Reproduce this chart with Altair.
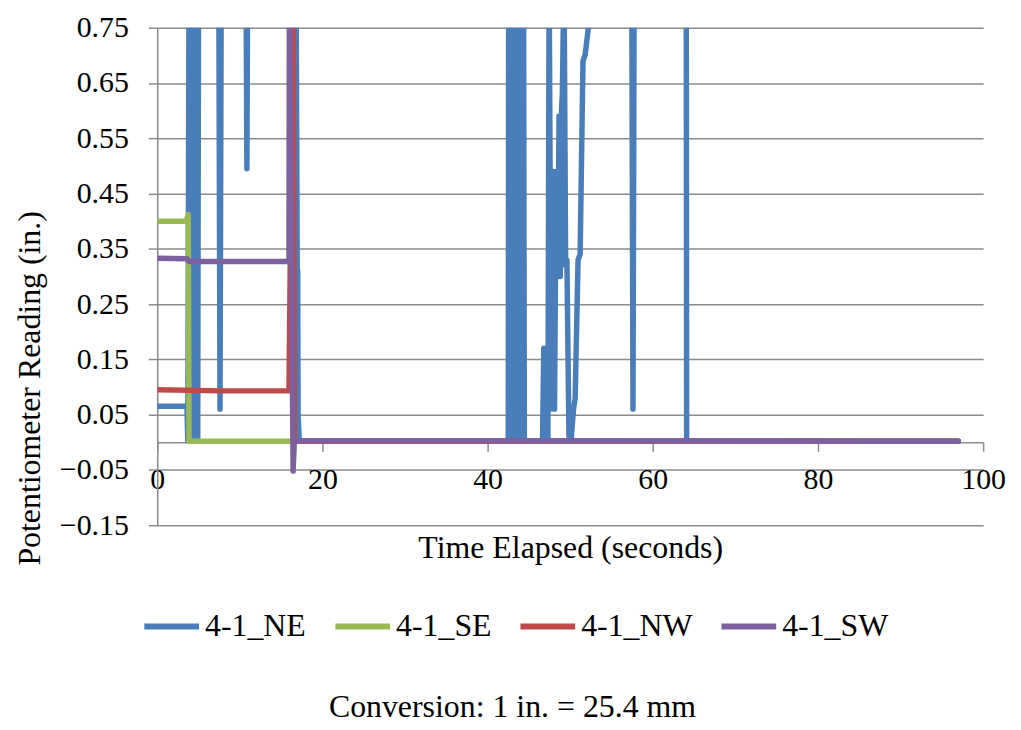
import altair as alt
import pandas as pd

SERIES = ["4-1_NE", "4-1_SE", "4-1_NW", "4-1_SW"]
COLORS = ["#4A7EBB", "#98B954", "#BE4B48", "#7D60A0"]

Y_TICKS = [-0.15, -0.05, 0.05, 0.15, 0.25, 0.35, 0.45, 0.55, 0.65, 0.75]
X_TICKS = [0, 20, 40, 60, 80, 100]

# 4-1_NE (values above 0.75 run off the top of the plot)
NE_T = [0, 3.6, 3.7, 3.85, 4.0, 4.15, 4.3, 4.45, 4.6, 4.75, 4.9, 5.0,
        7.45, 7.6, 7.75, 10.75, 10.85, 10.95, 16.8, 16.95, 17.0, 17.05, 17.2,
        42.5, 42.55, 42.65, 42.75, 42.85, 42.95, 43.05, 43.15, 43.25, 43.35, 43.45,
        43.55, 43.65, 43.75, 43.85, 43.95, 44.05, 44.15, 44.25, 44.35, 44.45, 44.6,
        46.65, 46.8, 46.9, 47.3, 47.45,
        47.7, 47.95, 48.1, 48.3, 48.5, 48.65, 48.8, 48.95, 49.05, 49.25, 49.45,
        49.6, 49.85, 50.1, 50.4, 50.6, 50.95, 51.2, 51.55, 51.8, 53.0,
        57.45, 57.6, 57.75, 64.05, 64.1, 97.0]
NE_V = [0.065, 0.065, 0.003, 0.85, 0.003, 0.85, 0.003, 0.85, 0.003, 0.85, 0.003, 0.85,
        0.85, 0.06, 0.85, 0.85, 0.495, 0.85, 0.85, 0.31, 0.31, 0.05, 0.002,
        0.002, 0.85, 0.12, 0.13, 0.002, 0.85, 0.002, 0.85, 0.002, 0.85, 0.002,
        0.85, 0.002, 0.85, 0.002, 0.85, 0.002, 0.85, 0.002, 0.85, 0.002, 0.002,
        0.002, 0.17, 0.002, 0.002, 0.85,
        0.06, 0.49, 0.06, 0.49, 0.30, 0.59, 0.30, 0.60, 0.63, 0.85, 0.32,
        0.33, 0.01, 0.002, 0.06, 0.08, 0.33, 0.34, 0.69, 0.70, 0.85,
        0.85, 0.06, 0.85, 0.85, 0.002, 0.002]

# 4-1_SE
SE_T = [0, 3.5, 3.75, 3.85, 97.0]
SE_V = [0.40, 0.40, 0.412, 0.002, 0.002]

# 4-1_NW
NW_T = [0, 8.0, 15.95, 16.45, 16.6, 97.0]
NW_V = [0.095, 0.093, 0.093, 0.85, 0.002, 0.002]

# 4-1_SW
SW_T = [0, 3.6, 3.85, 15.95, 16.0, 16.45, 16.6, 97.0]
SW_V = [0.333, 0.332, 0.327, 0.327, 0.85, -0.052, 0.003, 0.002]

rows = []
for name, ts, vs in zip(SERIES, [NE_T, SE_T, NW_T, SW_T], [NE_V, SE_V, NW_V, SW_V]):
    for t, v in zip(ts, vs):
        rows.append({"series": name, "t": t, "v": v})
df = pd.DataFrame(rows)

FONT = "Liberation Serif, Times New Roman, serif"
GRID = "#8a8a8a"

x_enc = alt.X(
    "t:Q",
    scale=alt.Scale(domain=[0, 100], nice=False, zero=False),
    axis=alt.Axis(
        values=X_TICKS, format="d", grid=False, offset=-83.33,
        tickSize=9, tickColor=GRID, domainColor=GRID, domainWidth=1.5, tickWidth=1.5,
        labelFontSize=30, labelFont=FONT, labelColor="black", labelPadding=13,
        labelFlush=False, labelOverlap=False,
        title="Time Elapsed (seconds)", titleFont=FONT, titleFontSize=32,
        titleFontWeight="normal", titleColor="black", titleY=106, titleBaseline="middle",
    ),
)
y_enc = alt.Y(
    "v:Q",
    scale=alt.Scale(domain=[-0.15, 0.75], nice=False, zero=False),
    axis=alt.Axis(
        values=Y_TICKS, format=".2f", grid=True, gridColor=GRID, gridWidth=1.5,
        tickSize=9, tickColor=GRID, domainColor=GRID, domainWidth=1.5, tickWidth=1.5,
        labelFontSize=30, labelFont=FONT, labelColor="black", labelPadding=20,
        labelFlush=False, labelOverlap=False,
        title="Potentiometer Reading (in.)", titleFont=FONT, titleFontSize=32,
        titleFontWeight="normal", titleColor="black", titleX=-128, titleY=362,
        titleBaseline="middle",
    ),
)
color_enc = alt.Color(
    "series:N",
    scale=alt.Scale(domain=SERIES, range=COLORS),
    legend=alt.Legend(
        title=None, orient="none", legendX=-16, legendY=571, direction="horizontal",
        columns=4, symbolType="stroke", symbolSize=3025, symbolStrokeWidth=6,
        labelFont=FONT, labelFontSize=32, labelColor="black", labelOffset=3,
        columnPadding=17,
    ),
)

base = alt.Chart(df).mark_line(
    strokeWidth=5.5, strokeCap="round", strokeJoin="round", clip=True
).encode(x=x_enc, y=y_enc, color=color_enc)

layers = [base.transform_filter(alt.datum.series == s) for s in SERIES]

chart = alt.layer(*layers).properties(
    width=830,
    height=500,
    autosize=alt.AutoSizeParams(type="none"),
    padding={"left": 150, "top": 18, "right": 30, "bottom": 200},
    title=alt.Title(
        "Conversion: 1 in. = 25.4 mm", orient="bottom", anchor="middle", frame="group",
        offset=65, dx=-58, baseline="middle", fontSize=32, fontWeight="normal",
        font=FONT, color="black",
    ),
).configure_view(strokeOpacity=0)

chart.save("out.html", embed_options={"renderer": "svg", "actions": False})
